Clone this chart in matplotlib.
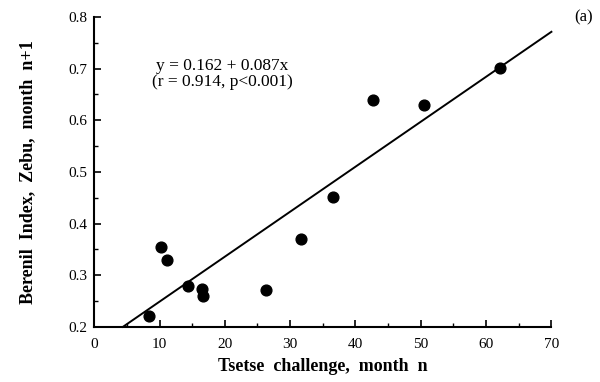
import matplotlib
matplotlib.use('Agg')
import matplotlib.pyplot as plt
import numpy as np
from matplotlib.ticker import MultipleLocator

# data
tsetse = [8.4, 10.3, 11.2, 14.3, 16.5, 16.7, 26.3, 31.7, 36.6, 42.7, 50.5, 62.2]
berenil = [0.221, 0.355, 0.330, 0.280, 0.273, 0.260, 0.272, 0.370, 0.451, 0.639, 0.629, 0.701]
intercept = 0.162
slope = 0.0087
line_x = [4.4, 70.0]

plt.rcParams['font.family'] = ['Liberation Serif', 'DejaVu Serif']

fig = plt.figure(figsize=(6, 3.82), dpi=100)
ax = fig.add_axes([0.157, 0.144, 0.762, 0.812])

ax.scatter(tsetse, berenil, s=60, c='black', zorder=3, clip_on=False)
lx = np.array(line_x)
ax.plot(lx, intercept + slope * lx, color='black', lw=1.4, clip_on=False)

ax.set_xlim(0, 70)
ax.set_ylim(0.2, 0.8)
ax.xaxis.set_major_locator(MultipleLocator(10))
ax.xaxis.set_minor_locator(MultipleLocator(5))
ax.yaxis.set_major_locator(MultipleLocator(0.1))
ax.yaxis.set_minor_locator(MultipleLocator(0.05))
ax.yaxis.set_major_formatter(plt.FuncFormatter(lambda v, p: '%.1f' % v))

for s in ['top', 'right']:
    ax.spines[s].set_visible(False)
for s in ['left', 'bottom']:
    ax.spines[s].set_linewidth(1.5)

ax.tick_params(which='major', direction='in', length=5, width=1.2, labelsize=11)
ax.tick_params(axis='x', which='major', pad=8)
ax.tick_params(axis='y', which='major', pad=5)
ax.tick_params(which='minor', direction='in', length=3, width=1.0)

ax.set_xlabel('Tsetse  challenge,  month  n', fontsize=13, fontweight='bold', labelpad=5)
ax.set_ylabel('Berenil  Index,  Zebu,  month  n+1', fontsize=13, fontweight='bold', labelpad=23)

ax.text(19.6, 0.689, 'y = 0.162 + 0.087x\n(r = 0.914, p<0.001)', ha='center', va='center',
        fontsize=12.5, linespacing=1.05)
fig.text(0.972, 0.955, '(a)', ha='center', va='center', fontsize=12)

fig.savefig('out.png', dpi=100)
